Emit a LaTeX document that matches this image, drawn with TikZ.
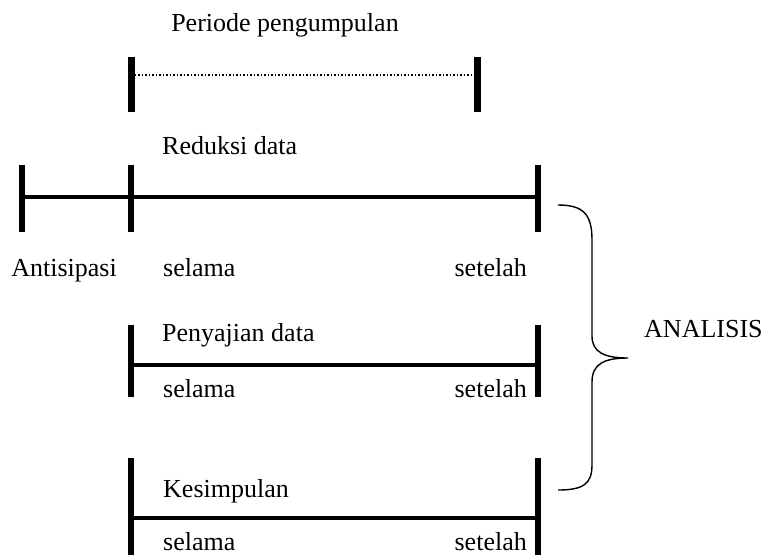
\documentclass[tikz,border=0pt]{standalone}
\usepackage{fontspec}
\setmainfont{Liberation Serif}
\begin{document}
\begin{tikzpicture}[x=1pt,y=-1pt,
  lbl/.style={inner sep=0pt,font=\fontsize{26}{30}\selectfont},
  bar/.style={line width=4.8pt},
  tick/.style={line width=5.2pt},
  ttick/.style={line width=7pt},
  dotline/.style={line width=1.5pt,dotted},
  brace/.style={line width=1.4pt}]
\useasboundingbox (0,0) rectangle (767,555);
% top period bar
\coordinate (p1) at (131,75);
\coordinate (p2) at (477,75);
\draw[ttick] (131,57) -- (131,112);
\draw[ttick] (477,57) -- (477,112);
\draw[dotline] (p1) -- (p2);
\node[lbl,anchor=base] (periode) at (285,31) {Periode pengumpulan};
% row 1
\coordinate (a0) at (22,197);
\coordinate (a1) at (131,197);
\coordinate (a2) at (538,197);
\draw[tick] (22,165) -- (22,232);
\draw[tick] (131,165) -- (131,232);
\draw[tick] (538,165) -- (538,232);
\draw[bar] (a0) -- (a1) -- (a2);
\node[lbl,anchor=base west] (reduksi) at (162,154) {Reduksi data};
\node[lbl,anchor=base] (antisipasi) at (64,276) {Antisipasi};
\node[lbl,anchor=base west] (selama1) at (163,276) {selama};
\node[lbl,anchor=base east] (setelah1) at (527,276) {setelah};
% row 2
\coordinate (b1) at (131,365);
\coordinate (b2) at (538,365);
\draw[tick] (131,325) -- (131,397);
\draw[tick] (538,325) -- (538,397);
\draw[bar] (b1) -- (b2);
\node[lbl,anchor=base west] (penyajian) at (162,341) {Penyajian data};
\node[lbl,anchor=base west] (selama2) at (163,397) {selama};
\node[lbl,anchor=base east] (setelah2) at (527,397) {setelah};
% row 3
\coordinate (c1) at (131,518);
\coordinate (c2) at (538,518);
\draw[tick] (131,458) -- (131,555);
\draw[tick] (538,458) -- (538,555);
\draw[bar] (c1) -- (c2);
\node[lbl,anchor=base west] (kesimpulan) at (163,497) {Kesimpulan};
\node[lbl,anchor=base west] (selama3) at (163,550) {selama};
\node[lbl,anchor=base east] (setelah3) at (527,550) {setelah};
% brace
\coordinate (bt) at (558,205);
\coordinate (bm) at (628,358);
\coordinate (bb) at (558,490);
\draw[brace] (bt) .. controls (583,205) and (592,214) .. (592,240)
  -- (592,336) .. controls (592,352) and (604,358) .. (bm)
  .. controls (604,358) and (592,364) .. (592,382)
  -- (592,465) .. controls (592,484) and (583,490) .. (bb);
\node[lbl,anchor=base west] (analisis) at (644,337) {ANALISIS};
\end{tikzpicture}
\end{document}
